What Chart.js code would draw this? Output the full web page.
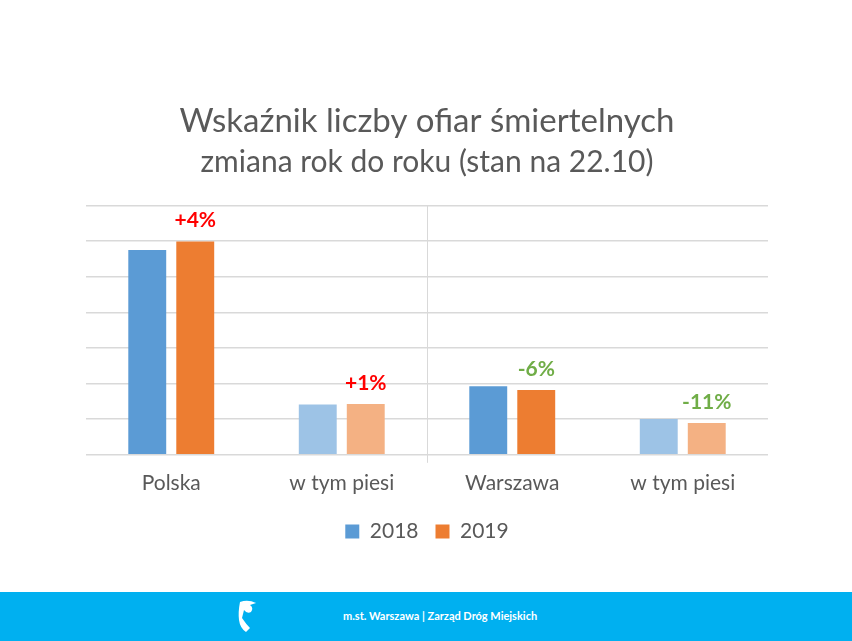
<!DOCTYPE html>
<html>
<head>
<meta charset="utf-8">
<script src="https://cdn.jsdelivr.net/npm/chart.js@4"></script>
<style>
    body { margin: 0; background: #fff; }
    #wrap { position: relative; width: 852px; height: 592px; }
    #footer {
        position: relative; width: 852px; height: 49px; background: #00b0f0;
        color: #fff; font-family: Lato, sans-serif; font-weight: bold; font-size: 11px;
    }
    #footer span { position: absolute; left: 343px; top: 17px; }
    #logo { position: absolute; left: 234px; top: 6px; width: 30px; height: 36px; }
</style>
</head>
<body>
<div id="wrap"><canvas id="chart" width="852" height="592"></canvas></div>
<div id="footer">
    <svg id="logo" viewBox="0 0 30 36">
        <path d="M6 4 Q14 1 22 5 L16 7 Q20 10 17 14 Q13 16 10 12 L8 20 Q12 26 16 30 L12 34 Q6 30 5 22 Q4 14 6 4 Z" fill="#fff"/>
    </svg>
    <span>m.st. Warszawa | Zarząd Dróg Miejskich</span>
</div>
<script>
const categories = ['Polska', 'w tym piesi', 'Warszawa', 'w tym piesi'];
const values2018 = [2300, 566, 770, 403];
const values2019 = [2396, 570, 728, 358];
const changeLabels = ['+4%', '+1%', '-6%', '-11%'];
const changeColors = ['#ff0000', '#ff0000', '#70ad47', '#70ad47'];

const colors2018 = ['#5b9bd5', '#9dc3e6', '#5b9bd5', '#9dc3e6'];
const colors2019 = ['#ed7d31', '#f4b183', '#ed7d31', '#f4b183'];

// labels with the change above the 2019 bars
const changePlugin = {
    id: 'changeLabels',
    afterDatasetsDraw(chart) {
        const ctx = chart.ctx;
        const meta = chart.getDatasetMeta(1);
        ctx.save();
        ctx.font = 'bold 21px Lato';
        ctx.textAlign = 'center';
        ctx.textBaseline = 'middle';
        meta.data.forEach(function (bar, i) {
            ctx.fillStyle = changeColors[i];
            ctx.fillText(changeLabels[i], bar.x, bar.y - 21);
        });
        ctx.restore();
    }
};

new Chart(document.getElementById('chart').getContext('2d'), {
    type: 'bar',
    data: {
        labels: categories,
        datasets: [{
            label: '2018',
            data: values2018,
            backgroundColor: colors2018,
            categoryPercentage: 0.563,
            barPercentage: 0.79
        }, {
            label: '2019',
            data: values2019,
            backgroundColor: colors2019,
            categoryPercentage: 0.563,
            barPercentage: 0.79
        }]
    },
    options: {
        responsive: false,
        animation: false,
        layout: {padding: {left: 86, right: 84, top: 0, bottom: 40}},
        plugins: {
            title: {
                display: true,
                text: 'Wskaźnik liczby ofiar śmiertelnych',
                color: '#595959',
                font: {family: 'Lato', size: 33, weight: 'normal'},
                padding: {top: 102, bottom: 0}
            },
            subtitle: {
                display: true,
                text: 'zmiana rok do roku (stan na 22.10)',
                color: '#595959',
                font: {family: 'Lato', size: 30, weight: 'normal'},
                padding: {top: 3, bottom: 25}
            },
            legend: {
                position: 'bottom',
                labels: {
                    color: '#595959',
                    font: {family: 'Lato', size: 21},
                    boxWidth: 14,
                    boxHeight: 14,
                    padding: 17
                }
            },
            tooltip: {enabled: false}
        },
        scales: {
            x: {
                border: {display: false},
                grid: {
                    offset: true,
                    tickLength: 8,
                    color: function (c) {
                        return c.index === 2 ? '#d9d9d9' : 'transparent';
                    }
                },
                ticks: {
                    color: '#595959',
                    font: {family: 'Lato', size: 21},
                    padding: 8
                }
            },
            y: {
                min: 0,
                max: 2800,
                border: {display: false},
                grid: {color: '#d9d9d9', lineWidth: 1.5, drawTicks: false},
                ticks: {display: false, stepSize: 400}
            }
        }
    },
    plugins: [changePlugin]
});
</script>
</body>
</html>
